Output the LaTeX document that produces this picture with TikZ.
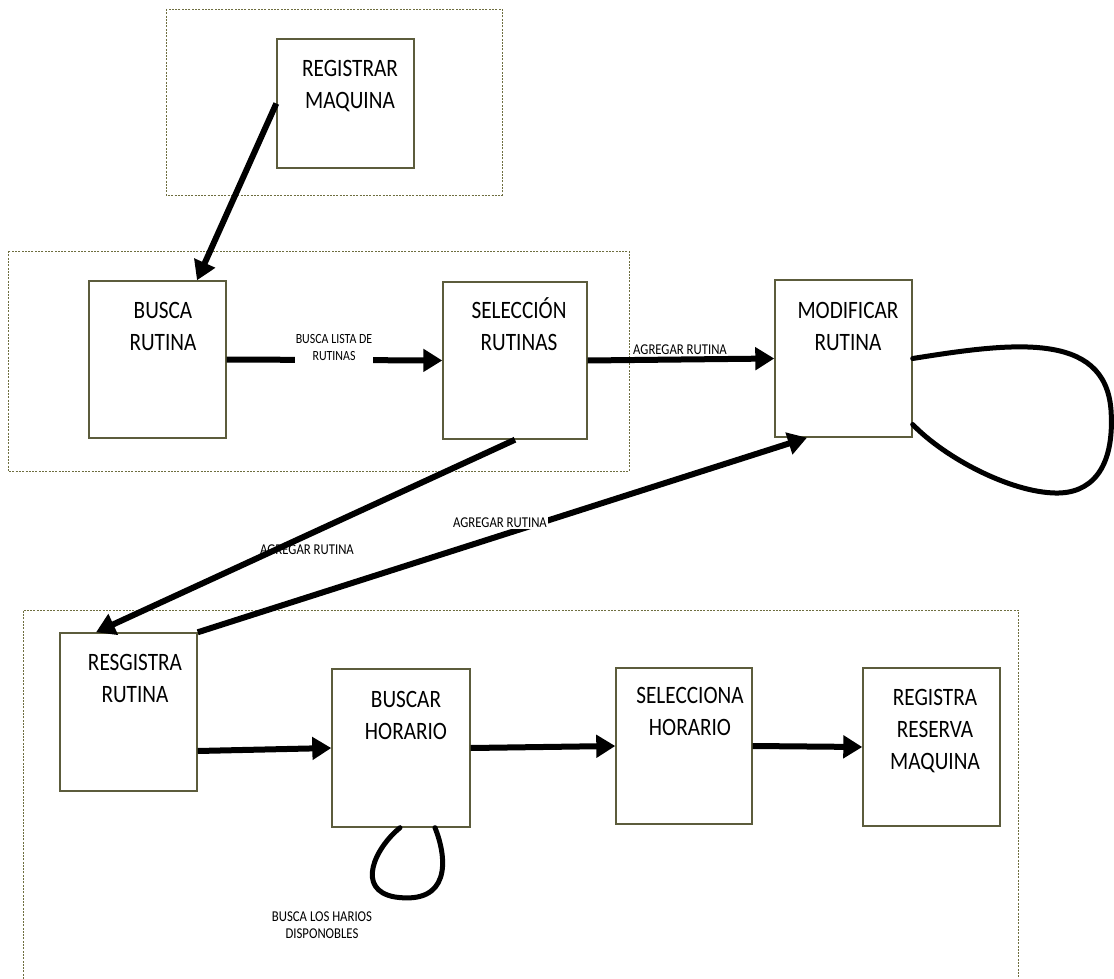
\documentclass[tikz,border=0pt]{standalone}
\usepackage{fontspec}
\setmainfont{Carlito}[FakeStretch=0.85]
\usetikzlibrary{arrows.meta}
\definecolor{boxline}{RGB}{92,92,60}
\definecolor{frameline}{RGB}{110,110,64}
\begin{document}
\begin{tikzpicture}[x=1pt,y=-1pt,
  procbox/.style={draw=boxline, line width=1.4pt, fill=white, inner sep=0pt},
  frame/.style={draw=frameline, line width=0.9pt, dash pattern=on 2pt off 1.3pt},
  boxtext/.style={anchor=north, inner sep=0pt, align=center,
    font={\fontsize{25}{32}\selectfont}},
  flowlabel/.style={inner sep=1pt, align=center,
    font={\fontsize{15}{18}\selectfont}},
  smalllabel/.style={inner sep=1pt, align=center,
    font={\fontsize{14}{17}\selectfont}},
  flow/.style={line width=6pt, -{Triangle[length=19pt,width=22pt]}},
  loopline/.style={line width=5pt, line cap=round},
]
\useasboundingbox[fill=white] (0,0) rectangle (1114,979);

% group frames
\draw[frame] (166,9) rectangle (502,195);
\draw[frame] (8,251) rectangle (629,471);
\draw[frame] (23,979) -- (23,610) -- (1018,610) -- (1018,979);

% process boxes
\node[procbox, minimum width=137pt, minimum height=129pt] (regm)  at (345.5,103.5) {};
\node[procbox, minimum width=137pt, minimum height=157pt] (busca) at (157.5,359.5) {};
\node[procbox, minimum width=144pt, minimum height=157pt] (selec) at (515,360.5) {};
\node[procbox, minimum width=137pt, minimum height=157pt] (modif) at (843.5,358.5) {};
\node[procbox, minimum width=137pt, minimum height=158pt] (resg)  at (128.5,712) {};
\node[procbox, minimum width=138pt, minimum height=158pt] (bush)  at (401,748) {};
\node[procbox, minimum width=136pt, minimum height=156pt] (selh)  at (684,746) {};
\node[procbox, minimum width=137pt, minimum height=158pt] (regr)  at (931.5,747) {};

% box captions
\node[boxtext] (regm-t)  at (350,53.6)  {\strut REGISTRAR\\MAQUINA};
\node[boxtext] (busca-t) at (163,295.6) {\strut BUSCA\\RUTINA};
\node[boxtext] (selec-t) at (519,295.6) {\strut SELECCIÓN\\RUTINAS};
\node[boxtext] (modif-t) at (848,295.6) {\strut MODIFICAR\\RUTINA};
\node[boxtext] (resg-t)  at (135,647.6) {\strut RESGISTRA\\RUTINA};
\node[boxtext] (bush-t)  at (406,684.6) {\strut BUSCAR\\HORARIO};
\node[boxtext] (selh-t)  at (690,680.6) {\strut SELECCIONA\\HORARIO};
\node[boxtext] (regr-t)  at (935,682.6) {\strut REGISTRA\\RESERVA\\MAQUINA};

% connectors
\draw[flow] (regm.west) -- ([xshift=39.5pt]busca.north);

\draw[flow] (busca.east) -- (selec.west);
\node[smalllabel, fill=white, inner ysep=4pt] (lbl-lista) at (334,348) {BUSCA LISTA DE\\RUTINAS};

\draw[flow] (selec.east) -- (modif.west);
\node[flowlabel] (lbl-agr1) at (680,350) {AGREGAR RUTINA};

\node[flowlabel] (lbl-agr2) at (307,550) {AGREGAR RUTINA};
\draw[flow] (selec.south) -- ([xshift=-32.5pt]resg.north);

\draw[flow] (resg.north east) -- ([xshift=-36.5pt]modif.south);
\node[flowlabel, fill=white] (lbl-agr3) at (500,523) {AGREGAR RUTINA};

\draw[loopline] (modif.east) .. controls (1010,343) and (1105,330) .. (1111,410)
  .. controls (1115,470) and (1090,494) .. (1055,493)
  .. controls (1010,492) and (945,458) .. ([yshift=-66pt]modif.east);

\draw[flow] ([yshift=-39pt]resg.east) -- (bush.west);
\draw[flow] (bush.east) -- (selh.west);
\draw[flow] (selh.east) -- (regr.west);

\draw[loopline] ([xshift=-1pt]bush.south) .. controls (375,848) and (355,890) .. (395,897)
  .. controls (450,905) and (448,860) .. ([xshift=34pt]bush.south);
\node[smalllabel, font={\fontsize{15}{17}\selectfont}] (lbl-horarios) at (322,925) {BUSCA LOS HARIOS\\DISPONOBLES};
\end{tikzpicture}
\end{document}
